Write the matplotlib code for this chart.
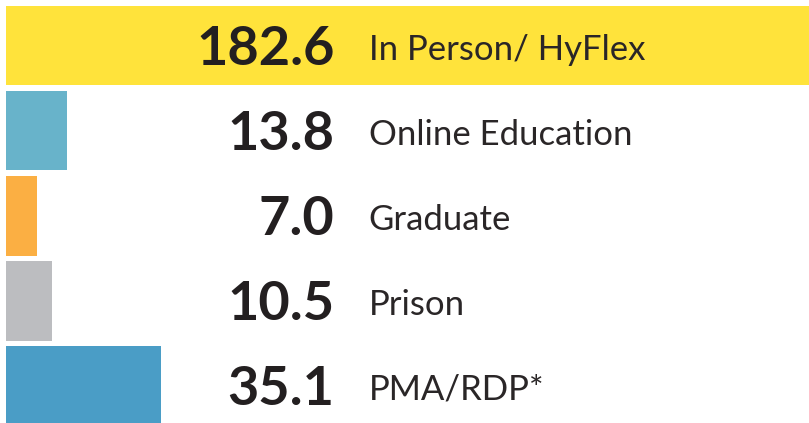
import matplotlib.pyplot as plt

categories = ["In Person/ HyFlex", "Online Education", "Graduate", "Prison", "PMA/RDP*"]
values = [182.6, 13.8, 7.0, 10.5, 35.1]
colors = ["#FFE33B", "#68B3CA", "#FBAF43", "#BCBDC0", "#4A9DC6"]
text_color = "#231F20"

fig = plt.figure(figsize=(8.09, 4.23), dpi=100)
ax = fig.add_axes([0, 0, 1, 1])

rows = list(range(len(categories)))
ax.barh(rows, values, height=0.94, color=colors, left=0)

# layout in data units (about 4.42 px per unit, 85 px per row)
ax.set_xlim(-1.36, 181.7)
ax.set_ylim(4.44, -0.535)

for i, (cat, v) in enumerate(zip(categories, values)):
    ax.text(74.3, i + 0.23, f"{v:.1f}", ha="right", va="baseline",
            fontsize=39, fontweight="bold", family="Lato", color=text_color)
    ax.text(82.1, i + 0.165, cat, ha="left", va="baseline",
            fontsize=25, family="Lato", color="#2A2627")

ax.axis("off")
fig.savefig("out.png", dpi=100)
